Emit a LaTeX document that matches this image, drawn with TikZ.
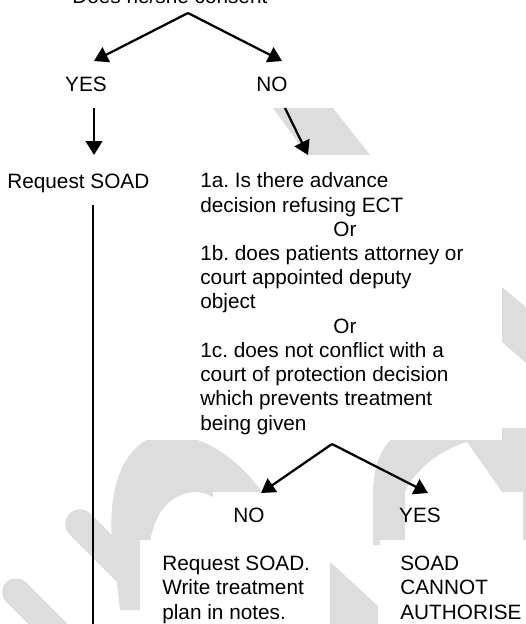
\documentclass[tikz,border=0pt]{standalone}
\usepackage{fontspec}
\setmainfont{Liberation Sans}
\usetikzlibrary{arrows.meta}
\definecolor{wmgrey}{RGB}{221,221,221}
\frenchspacing
\begin{document}
\begin{tikzpicture}[x=0.578pt,y=-0.578pt,
  txt/.style={font=\fontsize{12}{14}\selectfont, inner sep=0pt, align=left},
  flow/.style={line width=1.3pt, -{Triangle[width=9.5pt,length=8pt]}},
  plain/.style={line width=1.3pt},
  wm/.style={fill=wmgrey},
  band/.style={draw=wmgrey, line cap=round},
  pad/.style={fill=white}]
\useasboundingbox (0,0) rectangle (526,624);
\clip (0,0) rectangle (526,624);

% ---- light grey watermark strokes ----
\fill[wm] (273,108) -- (333,108) -- (370,155) -- (307,155) -- cycle;
\fill[wm] (502,287) -- (526,307) -- (526,363) -- (502,342) -- cycle;
\draw[band, line width=16pt] (16,592) -- (80,656);
\draw[band, line width=17pt] (80,524) -- (180,624);
\fill[wm] (120,610) -- (112,540) .. controls (108,490) and (122,450) .. (152,437)
  -- (188,437) .. controls (222,446) and (246,470) .. (262,492) -- (290,545)
  -- (240,545) .. controls (235,510) and (215,492) .. (195,492)
  .. controls (165,494) and (150,520) .. (148,560) -- (150,610) -- cycle;
\fill[wm] (373,545) -- (373,495) .. controls (373,465) and (382,445) .. (395,437)
  -- (502,437) -- (502,428) -- (526,428) -- (526,545) -- cycle;
\fill[white] (467,442) .. controls (440,450) and (415,470) .. (405,492) -- (502,492) -- cycle;
\fill[wm] (328,560) -- (378,606) -- (378,624) -- (328,624) -- cycle;

% ---- white text-box backgrounds ----
\fill[pad] (230,65) rectangle (340,108);
\fill[pad] (140,155) rectangle (502,440);
\fill[pad] (213,492) rectangle (310,540);
\fill[pad] (140,540) rectangle (330,624);
\fill[pad] (405,492) rectangle (523,540);
\fill[pad] (380,540) rectangle (526,624);

% ---- text (multi-line nodes anchored at their last baseline) ----
\node[txt, anchor=base west] (consent) at (72,3.5) {Does he/she consent};
\node[txt, anchor=base] (yes1) at (86,91) {YES};
\node[txt, anchor=base] (no1) at (272,91) {NO};
\node[txt, anchor=base west] (soad1) at (7,188) {Request SOAD};
\node[txt, anchor=base west] (query) at (200,430) {1a. Is there advance\\
decision refusing ECT\\
\hspace*{76.9pt}Or\\
1b. does patients attorney or\\
court appointed deputy\\
object\\
\hspace*{76.9pt}Or\\
1c. does not conflict with a\\
court of protection decision\\
which prevents treatment\\
being given};
\node[txt, anchor=base] (no2) at (249,522) {NO};
\node[txt, anchor=base] (yes2) at (420,522) {YES};
\node[txt, anchor=base west] (soad2) at (162,619) {Request SOAD.\\
Write treatment\\
plan in notes.};
\node[txt, anchor=base west] (cannot) at (400,619) {SOAD\\
CANNOT\\
AUTHORISE};

% ---- connectors ----
\coordinate (split1) at (188,13);
\coordinate (yes1tip) at (94,61);
\coordinate (no1tip) at (282,61);
\coordinate (yes1foot) at (94,108);
\coordinate (soad1tip) at (94,155);
\coordinate (no1foot) at (285,108);
\coordinate (querytip) at (308,155);
\coordinate (soadline) at (93,205);
\coordinate (soadend) at (93,632);
\coordinate (split2) at (332,444);
\coordinate (no2tip) at (261,493);
\coordinate (yes2tip) at (428,493);

\draw[flow] (split1) -- (yes1tip);
\draw[flow] (split1) -- (no1tip);
\draw[flow] (yes1foot) -- (soad1tip);
\draw[flow] (no1foot) -- (querytip);
\draw[plain] (soadline) -- (soadend);
\draw[flow] (split2) -- (no2tip);
\draw[flow] (split2) -- (yes2tip);
\end{tikzpicture}
\end{document}
